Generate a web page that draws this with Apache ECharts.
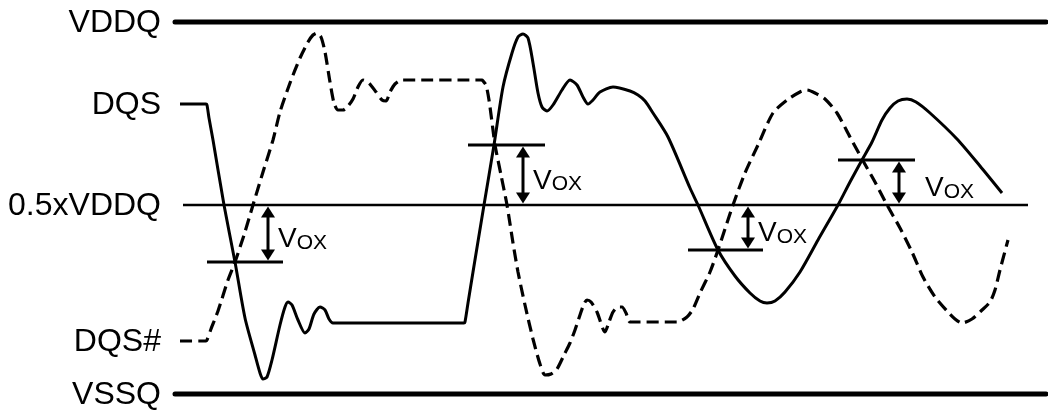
<!DOCTYPE html>
<html><head><meta charset="utf-8">
<script src="https://cdn.jsdelivr.net/npm/echarts@6/dist/echarts.min.js"></script>
<style>html,body{margin:0;padding:0;background:#fff}#c{width:1048px;height:412px}</style>
</head><body><div id="c"></div>
<script>
// Level units (0 = VSSQ rail); time in arbitrary units
const VSSQ = 0, VDDQ = 372, VMID = 189, DQS_HIGH = 290, DQS_LOW = 53;

const levelNames  = ['VDDQ', 'DQS', '0.5xVDDQ', 'DQS#', 'VSSQ'];
const levelValues = [VDDQ, DQS_HIGH, VMID, DQS_LOW, VSSQ];
const labelX = 161;

const railStart = 175, railEnd = 1046;
const midStart = 183, midEnd = 1028;

// DQS (solid) waveform
const dqs = [
 [180,290],[200,290],[206,290],[207,289],[209,276],[213,254],[224,189],[235,132],[245,76],[255,39],[260,21],[263,15],[267,17],
 [272,34],[280,69],[285,87],[288,92],[292,89],[298,74],[305,61],[309,65],[314,80],[320,87],
 [325,84],[329,75],[333,71],[340,71],[458,71],[464,71],[465,72],[468,91],[473,122],[484,189],[494,249],[503,307],[512,341],[518,357],
 [523,360],[528,356],[533,331],[538,301],[542,287],[547,283],[553,289],[562,304],[570,314],[577,309],
 [583,297],[588,290],[593,294],[600,302],[613,307],[630,303],[638,299],[645,293],[653,281],[668,257],
 [690,206],[698,189],[718,144],[735,118],[750,101],[760,93],[767,91],[775,93],[785,102],[800,122],
 [818,154],[838,189],[850,212],[862,234],[872,252],[882,274],[890,286],[898,293],[907,295],[916,292],
 [930,281],[957,255],[980,228],[1002,201]
];

// DQS# (dashed) waveform
const dqsN = [
 [180,53],[200,53],[206,53],[207,54],[211,65],[218,83],[228,114],[235,132],[244,159],[253,189],[263,222],[273,254],[280,282],
 [290,311],[300,336],[308,352],[313,359],[317,361],[321,357],[325,342],[330,312],[334,291],[338,284],
 [343,284],[348,288],[353,295],[358,307],[363,314],[369,311],[376,302],[382,294],[386,293],[390,302],
 [395,310],[402,314],[410,314],[476,314],[482,314],[483,313],[486,309],[489,294],[493,264],[495,249],[501,219],[507,189],[513,151],
 [518,122],[525,89],[533,55],[540,30],[545,19],[551,20],[557,25],[564,39],[570,51],[575,64],
 [580,79],[584,90],[587,94],[591,92],[597,82],[605,62],[609,72],[613,82],[618,87],[622,87],
 [626,81],[630,72],[640,72],[670,72],[677,72],[687,77],[693,85],[700,101],[710,122],[718,144],[733,189],[745,221],
 [758,249],[773,281],[787,294],[800,302],[807,304],[815,301],[825,295],[837,281],[850,257],[862,235],
 [875,212],[887,189],[900,166],[912,142],[923,117],[935,97],[947,83],[955,75],[962,71],[972,75],
 [982,84],[990,92],[995,104],[1000,124],[1008,154]
];

// VOX annotations (crossing level, horizontal marker extent, arrow x, label x)
const voxLevel    = [132, 249, 144, 234];
const voxLineFrom = [207, 468, 688, 838];
const voxLineTo   = [283, 545, 763, 915];
const voxArrowX   = [268, 523, 748, 899];
const voxTextX    = [278, 533, 758, 925];

const FONT = '"Liberation Sans", Arial, Helvetica, sans-serif';
const chart = echarts.init(document.getElementById('c'), null, {renderer: 'canvas'});

const voxData = voxLevel.map((lv, i) => [voxLineFrom[i], voxLineTo[i], voxArrowX[i], lv, voxTextX[i]]);
const labelData = levelNames.map((n, i) => [labelX, levelValues[i], n]);

function renderVox(params, api) {
  const x0 = api.value(0), x1 = api.value(1), xa = api.value(2), lv = api.value(3), tx = api.value(4);
  const p0 = api.coord([x0, lv]), p1 = api.coord([x1, lv]);
  const pm = api.coord([xa, VMID]), pl = api.coord([xa, lv]);
  const pt = api.coord([tx, (lv + VMID) / 2]);
  const top = Math.min(pm[1], pl[1]) + 1.5, bot = Math.max(pm[1], pl[1]) - 1.5;
  const ax = pm[0], hw = 7, hh = 11;
  return {
    type: 'group',
    children: [
      {type: 'line', shape: {x1: p0[0], y1: p0[1], x2: p1[0], y2: p1[1]}, style: {stroke: '#000', lineWidth: 3}},
      {type: 'line', shape: {x1: ax, y1: top + hh - 1, x2: ax, y2: bot - hh + 1}, style: {stroke: '#000', lineWidth: 3}},
      {type: 'polygon', shape: {points: [[ax, top], [ax - hw, top + hh], [ax + hw, top + hh]]}, style: {fill: '#000'}},
      {type: 'polygon', shape: {points: [[ax, bot], [ax - hw, bot - hh], [ax + hw, bot - hh]]}, style: {fill: '#000'}},
      {type: 'text', style: {
        x: pt[0], y: pt[1] + 5, text: '{v|V}{o|OX}', align: 'left', verticalAlign: 'middle',
        rich: {
          v: {fontSize: 28, fontFamily: FONT, fill: '#000', verticalAlign: 'bottom', lineHeight: 30},
          o: {fontSize: 21, fontFamily: FONT, fill: '#000', verticalAlign: 'bottom', lineHeight: 30}
        }
      }}
    ]
  };
}

function renderLabel(params, api) {
  const p = api.coord([api.value(0), api.value(1)]);
  return {type: 'text', style: {x: p[0], y: p[1] + 1, text: labelData[params.dataIndex][2], fontSize: 32,
    fontFamily: FONT, fill: '#000', align: 'right', verticalAlign: 'middle'}};
}

const lineBase = {type: 'line', showSymbol: false, symbol: 'none', silent: true, animation: false};

chart.setOption({
  animation: false,
  backgroundColor: '#fff',
  grid: {left: 0, right: 0, top: 0, bottom: 0, containLabel: false},
  xAxis: {type: 'value', min: 0, max: 1048, show: false},
  yAxis: {type: 'value', min: -18, max: 394, show: false},
  series: [
    Object.assign({}, lineBase, {name: 'VDDQ', data: [[railStart, VDDQ], [railEnd, VDDQ]], lineStyle: {color: '#000', width: 5, cap: 'round'}}),
    Object.assign({}, lineBase, {name: 'VSSQ', data: [[railStart, VSSQ], [railEnd, VSSQ]], lineStyle: {color: '#000', width: 5, cap: 'round'}}),
    Object.assign({}, lineBase, {name: 'VMID', data: [[midStart, VMID], [midEnd, VMID]], lineStyle: {color: '#000', width: 2.5}}),
    Object.assign({}, lineBase, {name: 'DQS', data: dqs, smooth: 0.25, lineStyle: {color: '#000', width: 3, join: 'round'}}),
    Object.assign({}, lineBase, {name: 'DQS#', data: dqsN, smooth: 0.25, lineStyle: {color: '#000', width: 3.2, type: [12, 6]}}),
    {type: 'custom', name: 'VOX', data: voxData, renderItem: renderVox, silent: true, animation: false},
    {type: 'custom', name: 'labels', data: labelData.map(d => [d[0], d[1]]), renderItem: renderLabel, silent: true, animation: false}
  ]
});
</script>
</body></html>
